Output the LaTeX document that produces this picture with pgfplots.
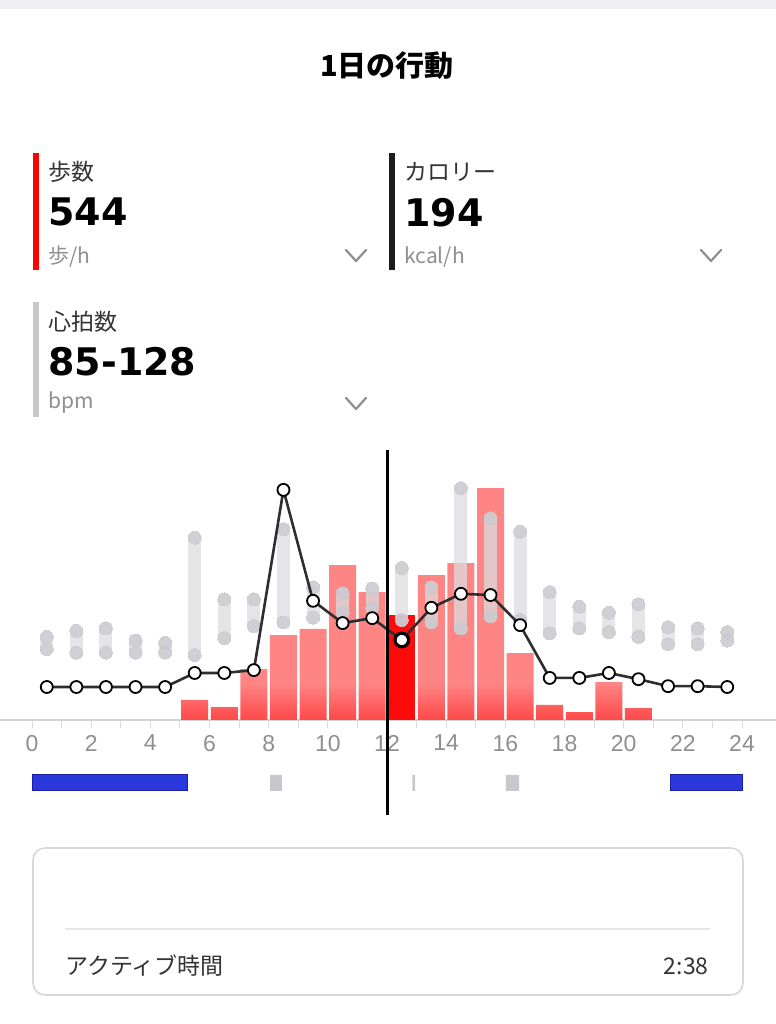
\documentclass[border=0pt]{standalone}
\usepackage{fontspec}
\setmainfont{Noto Sans CJK JP}
\newfontfamily\latinfont{Liberation Sans}
\newfontfamily\numfont{DejaVu Sans}
\usepackage{pgfplots}
\usepackage{pgfplotstable}
\pgfplotsset{compat=1.18}

\definecolor{stepred}{HTML}{FF0000}
\definecolor{barpink}{HTML}{FF8585}
\definecolor{barred}{HTML}{FF4848}
\definecolor{selred}{HTML}{FF0A0A}
\definecolor{calblack}{HTML}{1C1C1E}
\definecolor{hrgray}{HTML}{C7C7CC}
\definecolor{axisgray}{HTML}{D1D1D6}
\definecolor{tickgray}{HTML}{DADADE}
\definecolor{labelgray}{HTML}{8E8E93}
\definecolor{capsule}{HTML}{DCDCE1}
\definecolor{capend}{HTML}{C9C9CF}
\definecolor{linegray}{HTML}{2E2E30}
\definecolor{sleepblue}{HTML}{2B38DB}
\definecolor{sleepedge}{HTML}{1A1FA0}
\definecolor{napgray}{HTML}{C7C7CC}
\definecolor{darktext}{HTML}{333333}
\definecolor{topgray}{HTML}{EFEFF4}
\definecolor{cardgray}{HTML}{D8D8DC}
\definecolor{divgray}{HTML}{E5E5EA}

\pgfdeclareverticalshading{barshade}{100bp}{color(0bp)=(barred); color(25bp)=(barred); color(33bp)=(barpink); color(100bp)=(barpink)}

% steps per hour (bar centred on the half hour)
\pgfplotstableread{
x steps
5.5 104
6.5 67
7.5 264
8.5 440
9.5 472
10.5 803
11.5 663
13.5 751
14.5 813
15.5 1202
16.5 347
17.5 78
18.5 41
19.5 197
20.5 62
}\stepsdata

% heart-rate range per hour
\pgfplotstableread{
x lo hi
0.5 61 71
1.5 58 76
2.5 58 78
3.5 58 68
4.5 58 66
5.5 56 153
6.5 70 102
7.5 80 102
8.5 83 160
9.5 87 112
10.5 91 107
11.5 95 111
12.5 85 128
13.5 83 112
14.5 78 194
15.5 88 169
16.5 85 158
17.5 74 108
18.5 78 96
19.5 75 91
20.5 71 98
21.5 65 79
22.5 65 78
23.5 68 75
}\hrdata

% calories per hour
\pgfplotstableread{
x kcal
0.5 80
1.5 80
2.5 80
3.5 80
4.5 80
5.5 114
6.5 114
7.5 121
8.5 558
9.5 289
10.5 235
11.5 247
12.5 194
13.5 272
14.5 306
15.5 303
16.5 230
17.5 102
18.5 102
19.5 114
20.5 99
21.5 82
22.5 82
23.5 80
}\caldata

\pgfplotsset{
  dayaxis/.style={
    at={(0pt,152pt)}, anchor=south west, scale only axis,
    width=388pt, height=135pt,
    xmin=-1.0817, xmax=25.149, clip=false
  }
}

\begin{document}
\begin{tikzpicture}[x=0.5pt,y=0.5pt]
\useasboundingbox (0,0) rectangle (776,1024);
\fill[topgray] (0,1015) rectangle (776,1024);

% title
\node[font=\fontsize{14.5}{17}\selectfont\bfseries, text=black] at (387,958) {1日の行動};

% metric blocks
\fill[stepred] (33,754) rectangle (39,871);
\node[anchor=west, inner sep=0, font=\fontsize{11.5}{14}\selectfont, text=darktext] at (48,852) {歩数};
\node[anchor=west, inner sep=0, font=\numfont\bfseries\fontsize{19}{22}\selectfont, text=black] at (48,812) {544};
\node[anchor=west, inner sep=0, font=\fontsize{10.5}{13}\selectfont, text=labelgray] at (48,767) {歩/h};
\draw[labelgray, line width=1.1pt, line cap=round, line join=round] (346,774) -- (356,763) -- (366,774);

\fill[calblack] (389,754) rectangle (395,871);
\node[anchor=west, inner sep=0, font=\fontsize{11.5}{14}\selectfont, text=darktext] at (404,852) {カロリー};
\node[anchor=west, inner sep=0, font=\numfont\bfseries\fontsize{19}{22}\selectfont, text=black] at (404,811) {194};
\node[anchor=west, inner sep=0, font=\fontsize{10.5}{13}\selectfont, text=labelgray] at (404,767) {kcal/h};
\draw[labelgray, line width=1.1pt, line cap=round, line join=round] (701,774) -- (711,763) -- (721,774);

\fill[hrgray] (33,607) rectangle (39,722);
\node[anchor=west, inner sep=0, font=\fontsize{11.5}{14}\selectfont, text=darktext] at (48,702) {心拍数};
\node[anchor=west, inner sep=0, font=\numfont\bfseries\fontsize{19}{22}\selectfont, text=black] at (48,662) {85-128};
\node[anchor=west, inner sep=0, font=\fontsize{10.5}{13}\selectfont, text=labelgray] at (48,621) {bpm};
\draw[labelgray, line width=1.1pt, line cap=round, line join=round] (346,626) -- (356,615) -- (366,626);

% steps axis
\begin{axis}[dayaxis,
  ymin=0, ymax=1400,
  axis x line=bottom, axis y line=none,
  axis line style={draw=axisgray, line width=0.6pt, -},
  xtick={0,2,...,24}, minor xtick={1,3,...,23},
  major tick length=4pt, minor tick length=4pt, tick align=outside,
  every tick/.style={draw=tickgray, line width=0.5pt},
  every minor tick/.style={draw=tickgray, line width=0.5pt},
  xticklabel style={font=\latinfont\fontsize{11.5}{13}\selectfont, text=labelgray},
  /pgf/number format/assume math mode=true,
]
\addplot[ybar, bar width=0.913, bar shift=0pt, draw=none, shading=barshade] table[x=x, y=steps] {\stepsdata};
\addplot[ybar, bar width=0.913, bar shift=0pt, draw=none, fill=selred] coordinates {(12.5,544)};
\end{axis}

% heart-rate axis
\begin{axis}[dayaxis, ymin=2.3, ymax=225.6, hide axis]
\addplot[color=capend, only marks, mark=*, mark size=3.25pt, mark options={fill=capend, draw=capend, line width=0pt, opacity=0.75},
  error bars/.cd, y dir=plus, y explicit, error mark=none,
  error bar style={line width=6.5pt, line cap=round, draw=capsule, opacity=0.75}]
  table[x=x, y=lo, y error plus expr=\thisrow{hi}-\thisrow{lo}] {\hrdata};
\addplot[color=capend, only marks, mark=*, mark size=3.25pt, mark options={fill=capend, draw=capend, line width=0pt, opacity=0.75}]
  table[x=x, y=hi] {\hrdata};
\end{axis}

% calorie axis
\begin{axis}[dayaxis, ymin=0, ymax=654.75, hide axis]
\addplot[color=linegray, line width=1.3pt, mark=*, mark size=3pt,
  mark options={fill=white, draw=black, line width=0.9pt, solid}] table[x=x, y=kcal] {\caldata};
\addplot[only marks, mark=*, mark size=3.4pt, mark options={fill=white, draw=black, line width=1.6pt}] coordinates {(12.5,194)};
\end{axis}

% activity / sleep strip
\begin{axis}[at={(0pt,116.5pt)}, anchor=south west, scale only axis, width=388pt, height=8pt,
  xmin=-1.0817, xmax=25.149, ymin=0, ymax=1, hide axis, clip=false]
\addplot[fill=sleepblue, draw=sleepedge, line width=0.5pt] coordinates {(0,0) (5.27,0) (5.27,1) (0,1) (0,0)};
\addplot[fill=sleepblue, draw=sleepedge, line width=0.5pt] coordinates {(21.57,0) (24,0) (24,1) (21.57,1) (21.57,0)};
\addplot[fill=napgray, draw=none] coordinates {(8.05,0) (8.45,0) (8.45,1) (8.05,1) (8.05,0)};
\addplot[fill=napgray, draw=none] coordinates {(12.86,0) (12.95,0) (12.95,1) (12.86,1) (12.86,0)};
\addplot[fill=napgray, draw=none] coordinates {(16.02,0) (16.47,0) (16.47,1) (16.02,1) (16.02,0)};
\end{axis}

% cursor line
\draw[black, line width=1.5pt] (387,574) -- (387,209);

% bottom card
\draw[cardgray, line width=0.8pt, rounded corners=6pt] (33,176) rectangle (743,29);
\draw[divgray, line width=0.6pt] (65,95) -- (710,95);
\node[anchor=west, inner sep=0, font=\fontsize{11.5}{14}\selectfont, text=darktext] at (65,58) {アクティブ時間};
\node[anchor=east, inner sep=0, font=\fontsize{11.5}{14}\selectfont, text=darktext] at (709,58) {2:38};
\end{tikzpicture}
\end{document}
